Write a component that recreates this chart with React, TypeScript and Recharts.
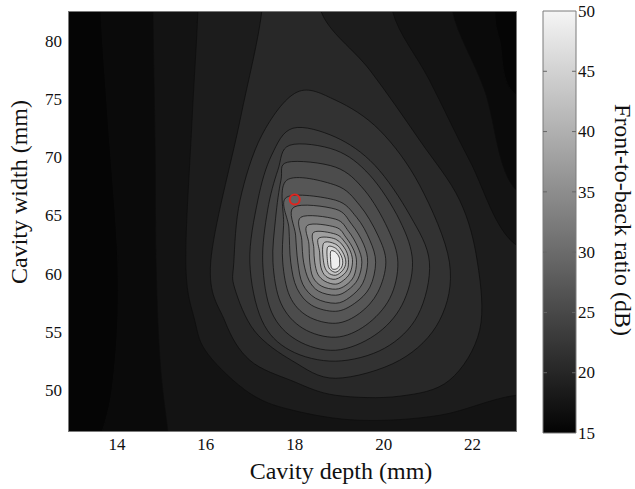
import React from 'react';
import { ScatterChart, Scatter, XAxis, YAxis, Label, ReferenceArea, ReferenceLine } from 'recharts';

const SERIF = '"Liberation Serif", "Times New Roman", serif';

const X_DOMAIN = [12.9, 23];
const Y_DOMAIN = [46.4, 82.6];
const X_TICKS = [14, 16, 18, 20, 22];
const Y_TICKS = [50, 55, 60, 65, 70, 75, 80];
const CB_RANGE = [15, 50];
const CB_TICKS = [15, 20, 25, 30, 35, 40, 45, 50];
const BACKGROUND_LEVEL = 15.3;

// contour levels (dB), outermost first
const LEVELS = [16.0, 17.3, 18.6, 20.3, 21.8, 23.0, 24.2, 25.6, 27.0, 28.7, 30.6, 32.7, 35.0, 37.5, 40.1, 42.9, 45.8, 49.0];

// contour outlines [cavity depth (mm), cavity width (mm)]
const C01 = [[13.64,88.69],[13.64,82.58],[13.80,73.21],[14.02,61.00],[13.96,52.57],[13.66,46.38],[12.72,38.81],[24.86,38.81],[24.86,74.07],[22.99,75.36],[22.61,80.09],[22.50,82.58],[22.50,88.69]];
const C02 = [[14.81,88.69],[14.81,82.58],[14.86,70.63],[14.88,61.00],[14.97,52.57],[15.15,46.38],[15.42,38.81],[24.86,38.81],[24.86,66.33],[22.99,67.19],[22.27,75.79],[21.55,82.58],[21.55,88.69]];
const C03 = [[15.82,88.69],[15.82,82.58],[15.69,73.21],[15.55,61.00],[15.75,56.01],[16.05,53.09],[16.99,49.73],[17.96,48.27],[19.46,47.41],[21.26,47.84],[22.99,49.56],[24.86,49.56],[24.86,62.03],[22.99,62.46],[21.93,69.77],[21.03,76.65],[20.20,82.58],[20.20,88.69]];
const C04 = [[17.26,88.69],[17.26,82.58],[16.77,73.21],[16.11,61.00],[16.43,55.92],[16.99,52.57],[17.96,50.77],[18.92,49.56],[20.36,49.48],[21.48,50.85],[22.16,55.15],[22.11,61.00],[21.71,66.33],[20.81,71.49],[19.69,77.51],[18.59,82.58],[18.59,88.69]];
const C05 = [[18.05,75.62],[18.92,74.93],[19.91,72.35],[20.81,67.62],[21.48,61.00],[21.26,56.01],[20.36,52.57],[18.92,51.02],[17.96,52.49],[17.10,55.07],[16.65,58.76],[16.63,61.00],[16.77,66.33],[17.26,71.92]];
const C06 = [[17.96,72.52],[18.92,71.75],[19.80,69.34],[20.59,65.04],[21.03,61.00],[20.77,56.44],[20.02,53.60],[18.92,52.49],[17.89,53.43],[17.26,56.01],[16.99,61.00],[17.17,66.33],[17.48,70.20]];
const C07 = [[17.89,71.06],[18.92,70.63],[19.69,68.48],[20.36,64.61],[20.65,61.00],[20.41,57.30],[19.80,54.72],[18.92,53.43],[18.05,54.29],[17.48,56.70],[17.28,61.00],[17.39,65.47],[17.62,68.91]];
const C08 = [[17.84,69.60],[18.92,69.17],[19.57,67.19],[20.09,63.92],[20.32,61.00],[20.14,57.90],[19.60,55.58],[18.92,54.55],[18.18,55.32],[17.69,57.47],[17.51,61.00],[17.57,64.78],[17.69,68.05]];
const C09 = [[17.82,68.05],[18.92,67.62],[19.46,65.90],[19.87,63.32],[20.05,61.00],[19.87,58.42],[19.46,56.61],[18.92,55.75],[18.29,56.36],[17.89,58.07],[17.73,61.00],[17.75,64.18]];
const C10 = [[17.82,66.59],[18.92,66.33],[19.39,64.87],[19.69,62.89],[19.82,61.00],[19.69,58.85],[19.35,57.47],[18.92,56.78],[18.38,57.30],[18.05,58.76],[17.91,61.00],[17.87,63.92]];
const C11 = [[17.98,65.73],[18.92,65.56],[19.28,64.27],[19.55,62.55],[19.64,61.00],[19.53,59.19],[19.24,57.99],[18.92,57.47],[18.47,57.90],[18.18,59.11],[18.07,61.00],[18.02,63.32]];
const C12 = [[18.14,64.87],[18.92,64.70],[19.21,63.66],[19.42,62.29],[19.51,61.00],[19.42,59.54],[19.19,58.59],[18.92,58.16],[18.54,58.50],[18.32,59.45],[18.20,61.00],[18.16,62.89]];
const C13 = [[18.29,64.18],[18.92,64.01],[19.15,63.15],[19.33,62.03],[19.39,61.00],[19.33,59.79],[19.15,59.02],[18.92,58.68],[18.61,58.93],[18.41,59.71],[18.34,61.00],[18.32,62.55]];
const C14 = [[18.43,63.58],[18.92,63.41],[19.13,62.72],[19.26,61.86],[19.30,61.00],[19.24,60.05],[19.10,59.45],[18.92,59.11],[18.68,59.36],[18.52,59.97],[18.45,61.00],[18.43,62.20]];
const C15 = [[18.54,63.06],[18.92,62.98],[19.15,62.03],[19.21,61.00],[19.15,60.14],[18.92,59.54],[18.70,59.79],[18.59,60.57],[18.56,61.86]];
const C16 = [[18.65,62.63],[18.92,62.55],[19.08,61.86],[19.15,61.00],[19.08,60.31],[18.92,59.88],[18.74,60.14],[18.65,61.00]];
const C17 = [[18.74,62.29],[18.92,62.20],[19.04,61.60],[19.08,61.00],[19.04,60.48],[18.92,60.14],[18.79,60.40],[18.74,61.00]];
const C18 = [[18.81,61.94],[18.92,61.86],[19.00,61.43],[19.01,61.00],[19.00,60.65],[18.92,60.40],[18.83,60.48],[18.81,61.00]];

const BACKGROUND = [[12.0, 90.0], [25.0, 90.0], [25.0, 38.0], [12.0, 38.0]];
const OPTIMUM = [{ x: 18.0, y: 66.4 }];

const OUTLINES = [C01, C02, C03, C04, C05, C06, C07, C08, C09, C10, C11, C12, C13, C14, C15, C16, C17, C18];

const gray = (v: number) => {
  const t = Math.max(0, Math.min(1, (v - CB_RANGE[0]) / (CB_RANGE[1] - CB_RANGE[0])));
  const g = Math.round(3 + t * 242);
  return `rgb(${g},${g},${g})`;
};

const toPts = (arr: number[][]) => arr.map(([x, y]) => ({ x, y }));

const smoothClosed = (pts: { x: number; y: number }[]) => {
  const n = pts.length;
  if (!n) return '';
  let d = `M${pts[0].x},${pts[0].y}`;
  for (let i = 0; i < n; i++) {
    const p0 = pts[(i - 1 + n) % n];
    const p1 = pts[i];
    const p2 = pts[(i + 1) % n];
    const p3 = pts[(i + 2) % n];
    const c1x = p1.x + (p2.x - p0.x) / 6;
    const c1y = p1.y + (p2.y - p0.y) / 6;
    const c2x = p2.x - (p3.x - p1.x) / 6;
    const c2y = p2.y - (p3.y - p1.y) / 6;
    d += `C${c1x},${c1y} ${c2x},${c2y} ${p2.x},${p2.y}`;
  }
  return d + 'Z';
};

const EmptyShape = () => <g />;

const regionLine = (fill: string, stroke: string) => (props: any) => (
  <path d={smoothClosed(props.points || [])} fill={fill} stroke={stroke} strokeWidth={0.9} strokeOpacity={0.8} />
);

const frameLine = (props: any) => {
  const p = props.points || [];
  const d = p.map((q: any, i: number) => `${i ? 'L' : 'M'}${q.x},${q.y}`).join('') + 'Z';
  return <path d={d} fill="none" stroke="#7a7a7a" strokeWidth={2} />;
};

const RedCircle = (props: any) => (
  <circle cx={props.cx} cy={props.cy} r={5} fill="none" stroke="#e0251f" strokeWidth={2} />
);

const FRAME = [
  { x: X_DOMAIN[0], y: Y_DOMAIN[1] },
  { x: X_DOMAIN[1], y: Y_DOMAIN[1] },
  { x: X_DOMAIN[1], y: Y_DOMAIN[0] },
  { x: X_DOMAIN[0], y: Y_DOMAIN[0] },
];

const CB_POINTS = CB_TICKS.map((v) => ({ x: 0.5, y: v }));

const makeTick = (anchor: string, dy: string) => (props: any) => (
  <text
    x={props.x}
    y={props.y}
    dy={dy}
    textAnchor={anchor}
    fontFamily={SERIF}
    fontSize={17}
    fill="#111"
  >
    {props.payload && props.payload.value}
  </text>
);

const xTick = makeTick('middle', '0.71em');
const yTickLeft = makeTick('end', '0.34em');
const yTickRight = makeTick('start', '0.34em');

export default function App() {
  return (
    <div style={{ position: 'absolute', left: 0, top: 0, width: 635, height: 489, background: '#fff', fontFamily: SERIF }}>
      <svg width={0} height={0} style={{ position: 'absolute' }}>
        <defs>
          <linearGradient id="cbGrad" x1="0" y1="0" x2="0" y2="1">
            {CB_TICKS.slice().reverse().map((v) => (
              <stop key={v} offset={(CB_RANGE[1] - v) / (CB_RANGE[1] - CB_RANGE[0])} stopColor={gray(v)} />
            ))}
          </linearGradient>
        </defs>
      </svg>
      <div style={{ position: 'absolute', left: 0, top: 0 }}>
        <ScatterChart width={540} height={489} margin={{ top: 11, right: 23, bottom: 0, left: 8 }}>
          <XAxis
            type="number"
            dataKey="x"
            domain={X_DOMAIN}
            ticks={X_TICKS}
            allowDataOverflow
            interval={0}
            height={57}
            tickLine={false}
            axisLine={false}
            tickSize={6}
            tickMargin={0}
            tick={xTick}
          >
            <Label
              content={() => (
                <text x={341} y={479} textAnchor="middle" fontSize={24} fontFamily={SERIF} fill="#111">
                  Cavity depth (mm)
                </text>
              )}
            />
          </XAxis>
          <YAxis
            type="number"
            dataKey="y"
            domain={Y_DOMAIN}
            ticks={Y_TICKS}
            allowDataOverflow
            interval={0}
            width={60}
            tickLine={false}
            axisLine={false}
            tickSize={6}
            tickMargin={0}
            tick={yTickLeft}
          >
            <Label
              content={() => (
                <text x={27} y={192} transform="rotate(-90 27 192)" textAnchor="middle" fontSize={24} fontFamily={SERIF} fill="#111">
                  Cavity width (mm)
                </text>
              )}
            />
          </YAxis>
          <Scatter
            data={toPts(BACKGROUND)}
            shape={EmptyShape}
            line={regionLine(gray(BACKGROUND_LEVEL), 'none')}
            isAnimationActive={false}
            legendType="none"
          />
          {OUTLINES.map((c, i) => (
            <Scatter
              key={`c${i}`}
              data={toPts(c)}
              shape={EmptyShape}
              line={regionLine(gray(LEVELS[i]), '#0d0d0d')}
              isAnimationActive={false}
              legendType="none"
            />
          ))}
          <Scatter data={FRAME} shape={EmptyShape} line={frameLine} isAnimationActive={false} legendType="none" />
          <Scatter data={OPTIMUM} shape={RedCircle} isAnimationActive={false} legendType="none" />
        </ScatterChart>
      </div>
      <div style={{ position: 'absolute', left: 540, top: 0 }}>
        <ScatterChart width={95} height={489} margin={{ top: 11, right: 0, bottom: 56, left: 3 }}>
          <XAxis type="number" dataKey="x" domain={[0, 1]} hide />
          <YAxis
            type="number"
            dataKey="y"
            orientation="right"
            domain={CB_RANGE}
            ticks={CB_TICKS}
            interval={0}
            width={59}
            tickLine={false}
            axisLine={false}
            tickSize={2}
            tickMargin={0}
            tick={yTickRight}
          >
            <Label
              content={() => (
                <text x={75} y={220} transform="rotate(90 75 220)" textAnchor="middle" fontSize={24} fontFamily={SERIF} fill="#111">
                  Front-to-back ratio (dB)
                </text>
              )}
            />
          </YAxis>
          <Scatter data={CB_POINTS} shape={EmptyShape} isAnimationActive={false} legendType="none" />
          <ReferenceArea x1={0} x2={1} y1={CB_RANGE[0]} y2={CB_RANGE[1]} fill="url(#cbGrad)" fillOpacity={1} stroke="#7a7a7a" strokeWidth={1} />
          {CB_TICKS.slice(1, -1).map((v) => (
            <ReferenceLine key={`l${v}`} segment={[{ x: 0, y: v }, { x: 0.12, y: v }]} stroke="#666" strokeWidth={1} />
          ))}
          {CB_TICKS.slice(1, -1).map((v) => (
            <ReferenceLine key={`r${v}`} segment={[{ x: 0.88, y: v }, { x: 1, y: v }]} stroke="#666" strokeWidth={1} />
          ))}
        </ScatterChart>
      </div>
    </div>
  );
}
